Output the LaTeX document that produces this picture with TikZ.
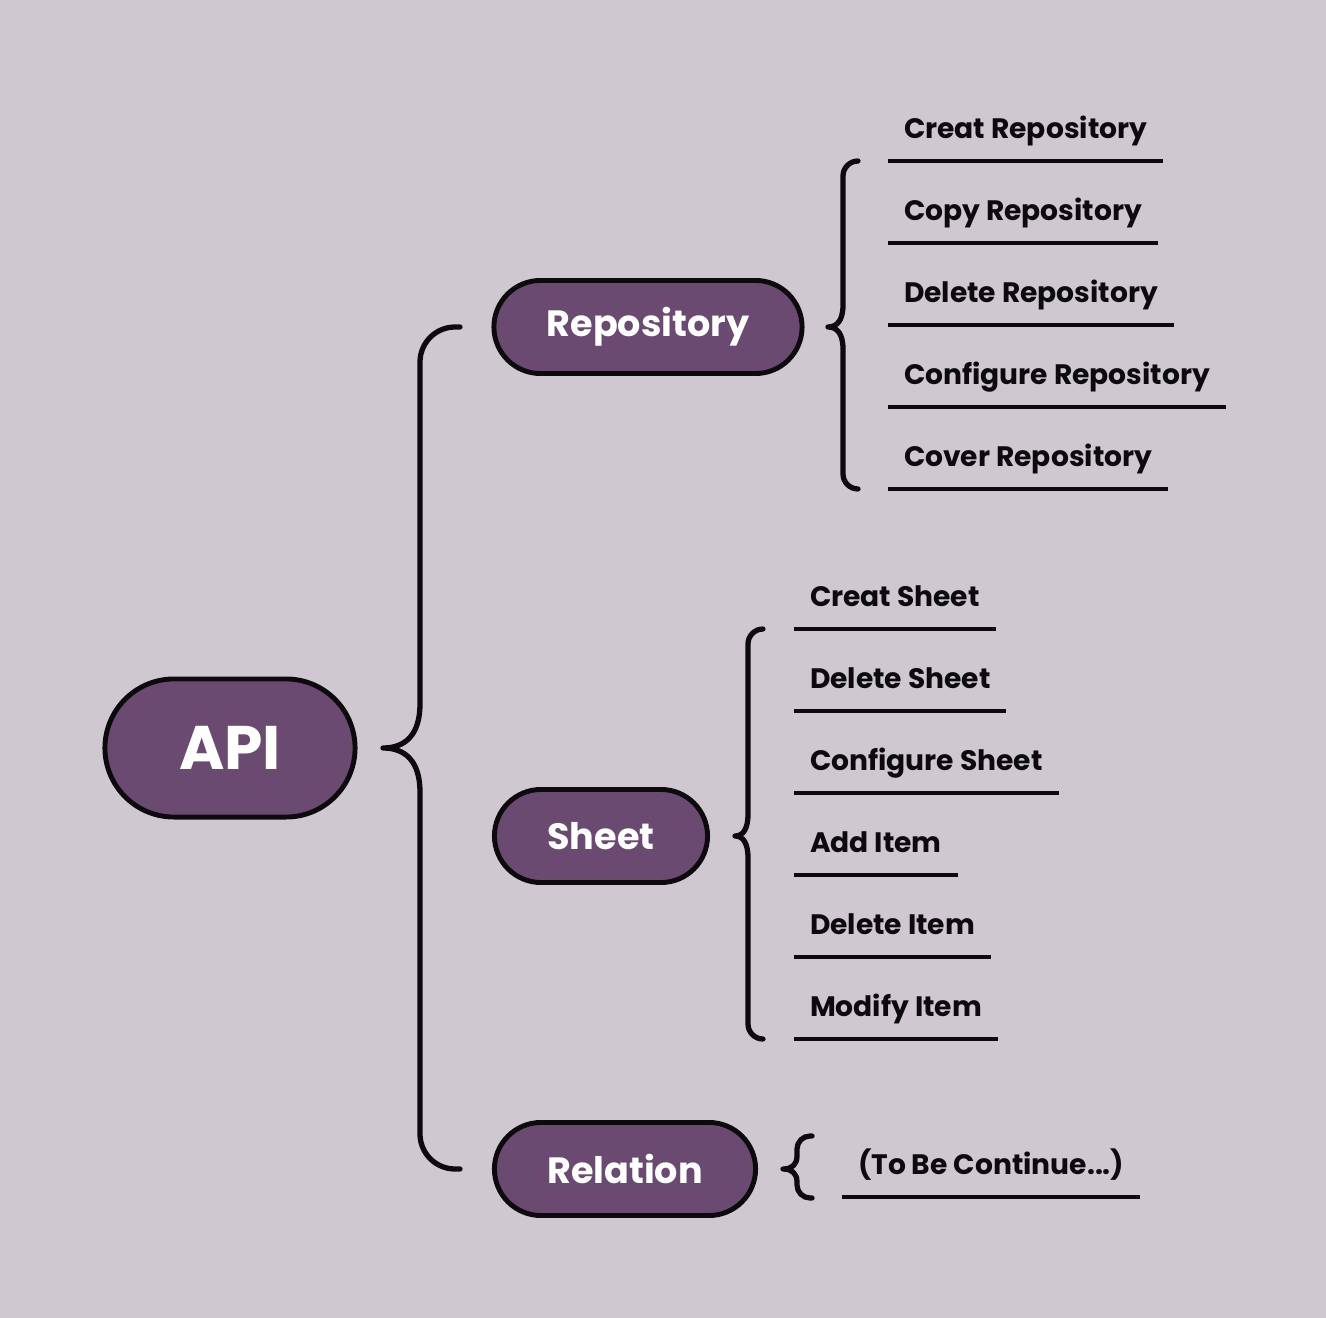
\documentclass[tikz,border=0pt]{standalone}
\usepackage{fontspec}
\setmainfont{Poppins}
\usetikzlibrary{shapes.misc, positioning, calc}

\definecolor{bgcol}{HTML}{CFC8D0}
\definecolor{plum}{HTML}{6B4A72}
\definecolor{ink}{HTML}{0D0A0E}

\tikzset{
  pill/.style={draw=ink, line width=1.4pt, fill=plum, rounded rectangle, text=white,
    font=\bfseries\fontsize{10.4}{12}\selectfont, minimum height=0.93cm, inner sep=0pt},
  item/.style={anchor=south west, inner xsep=0.16cm, inner ysep=0pt, outer sep=0pt,
    text depth=0.22cm, text=ink, font=\bfseries\fontsize{8}{10}\selectfont},
  uline/.style={draw=ink, line width=1.1pt},
  bracket/.style={draw=ink, line width=1.5pt, line cap=round, line join=round}
}

% #1 tip, #2 top end, #3 bottom end, #4 spine offset, #5 corner radius, #6 tip half height
\newcommand{\curlybrace}[6]{%
  \coordinate (cbT) at (#1);
  \coordinate (cbA) at (#2);
  \coordinate (cbB) at (#3);
  \coordinate (cbC1) at ($(cbT|-cbA)+(#4,0)$);
  \coordinate (cbC2) at ($(cbT|-cbB)+(#4,0)$);
  \draw[bracket] (cbA) -- ($(cbC1)+(#5,0)$)
    .. controls ($(cbC1)+(0.45*#5,0)$) and ($(cbC1)+(0,0.45*#5)$) .. ($(cbC1)+(0,#5)$)
    -- ($(cbT)+(#4,-#6)$)
    .. controls ($(cbT)+(#4,-0.3*#6)$) and ($(cbT)+(0.6*#4,0)$) .. (cbT)
    .. controls ($(cbT)+(0.6*#4,0)$) and ($(cbT)+(#4,0.3*#6)$) .. ($(cbT)+(#4,#6)$)
    -- ($(cbC2)+(0,-#5)$)
    .. controls ($(cbC2)+(0,-0.45*#5)$) and ($(cbC2)+(0.45*#5,0)$) .. ($(cbC2)+(#5,0)$)
    -- (cbB);
}

\begin{document}
\begin{tikzpicture}[x=0.01cm, y=-0.01cm]
  % Background
  \fill[bgcol] (0,0) rectangle (1326,1318);

  % Main nodes
  \node[pill, minimum width=2.50cm, minimum height=1.38cm, font=\bfseries\fontsize{17.5}{20}\selectfont] (api) at (230,748) {API};
  \node[pill, minimum width=3.08cm] (repo) at (648,327) {Repository};
  \node[pill, minimum width=2.13cm] (sheet) at (601,836) {Sheet};
  \node[pill, minimum width=2.61cm] (rel) at (625,1169) {Relation};

  % Repository items
  \node[item] (r1) at (888,161) {Creat Repository};
  \node[item] (r2) at (888,243) {Copy Repository};
  \node[item] (r3) at (888,325) {Delete Repository};
  \node[item] (r4) at (888,407) {Configure Repository};
  \node[item] (r5) at (888,489) {Cover Repository};

  % Sheet items
  \node[item] (s1) at (794,629) {Creat Sheet};
  \node[item] (s2) at (794,711) {Delete Sheet};
  \node[item] (s3) at (794,793) {Configure Sheet};
  \node[item] (s4) at (794,875) {Add Item};
  \node[item] (s5) at (794,957) {Delete Item};
  \node[item] (s6) at (794,1039) {Modify Item};

  % Relation item
  \node[item] (c1) at (842,1197) {(To Be Continue...)};

  % Underlines
  \foreach \n in {r1,r2,r3,r4,r5,s1,s2,s3,s4,s5,s6,c1}
    \draw[uline] (\n.south west) -- (\n.south east);

  % Brackets
  \curlybrace{$(api.center)+(153,0)$}{$(repo.center)+(-188,0)$}{$(rel.center)+(-165,0)$}{37}{35}{44}
  \curlybrace{$(repo.center)+(180,0)$}{$(r1.south west)+(-30,0)$}{$(r5.south west)+(-30,0)$}{15}{15}{22}
  \curlybrace{$(sheet.center)+(134,0)$}{$(s1.south west)+(-31,0)$}{$(s6.south west)+(-31,0)$}{13}{15}{22}
  \curlybrace{$(rel.center)+(158,0)$}{$(c1.south west)+(-30,-61)$}{$(c1.south west)+(-30,1)$}{14}{13}{13}
\end{tikzpicture}
\end{document}
